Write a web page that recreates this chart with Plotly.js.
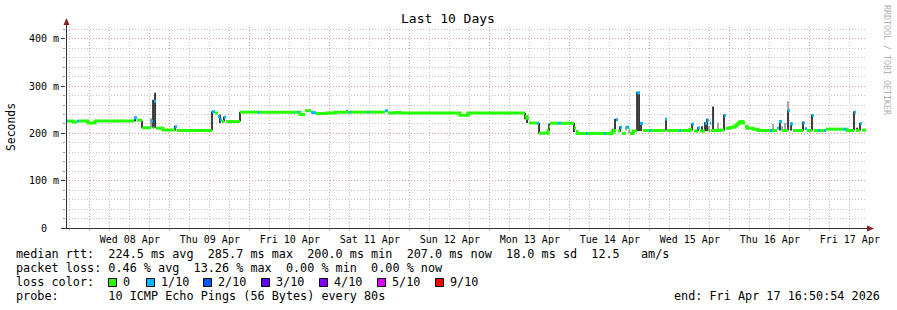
<!DOCTYPE html>
<html><head><meta charset="utf-8">
<script src="https://cdn.plot.ly/plotly-3.0.1.min.js"></script>
<style>html,body{margin:0;padding:0;background:#fff}</style>
</head><body><div id="chart" style="width:897px;height:310px"></div>
<script>
// time in days of April 2026 (fractional), RTT in milliseconds
const medTime = [7.702,7.727,7.790,7.840,7.865,7.977,8.065,8.552,8.590,8.652,8.765,8.790,8.802,8.827,8.915,9.065,9.090,9.527,9.565,9.602,9.627,9.652,9.677,9.702,9.877,10.102,10.127,10.590,10.615,10.627,10.690,10.765,10.827,10.952,11.065,11.240,11.265,11.465,11.490,11.690,11.727,11.815,11.877,12.627,12.727,13.440,13.465,13.490,13.590,13.615,13.727,13.740,13.752,13.852,13.890,14.052,14.077,14.090,14.202,14.227,14.427,14.452,14.527,14.552,14.577,14.602,14.627,14.652,14.702,14.740,14.752,14.790,14.840,14.877,14.915,14.990,15.015,15.190,15.215,15.365,15.390,15.502,15.527,15.552,15.602,15.627,15.690,15.715,15.740,15.752,15.765,15.877,15.927,15.952,16.002,16.065,16.090,16.115,16.140,16.165,16.190,16.215,16.290,16.352,16.502,16.527,16.590,16.615,16.652,16.727,16.752,16.790,16.915,16.940,16.965,17.027,17.052,17.102,17.127,17.177,17.202,17.415,17.452,17.465,17.552,17.577,17.627,17.652,17.702];
const medRtt = [226,226,224,226,226,222,226,233,228,212,226,212,268,211,207,214,206,246,243,236,229,225,234,225,245,245,245,245,245,240,248,244,242,243,245,245,245,245,245,248,243,244,243,238.5,243,236,232,222,221,200.5,206,214,221.5,221.5,221.5,212,204,200,200,200,200,200,203,206,229,205,213,200,213,208,200,205,285.7,221,206,206,206,230,206,206,206,209,220,205,212,205,221,228,206,222,206,207,238,211,213,216,220,224,225,222,215,211,209,206,206,206,211,225,206,248,220,206,222,210,206,238,206,206,206,206,209,209,209,206,245,206,221,207,207];
const medLoss = [1,0,0,1,0,0,0,1,0,0,1,0,1,0,0,1,0,1,0,1,1,0,1,0,0,1,0,1,0,0,0,1,0,0,0,1,0,1,0,1,0,0,0,0,0,0,0,0,1,0,0,0,0,1,0,0,0,0,1,0,1,0,0,0,1,0,1,0,1,0,0,0,1,1,0,1,0,1,0,1,0,0,1,0,1,0,1,1,0,1,0,0,1,0,0,0,0,0,0,0,0,0,0,0,1,0,1,1,0,1,1,0,1,1,0,1,0,1,0,1,0,1,0,0,1,0,1,0,0];

const smokeTime = [8.565,8.652,8.790,8.815,9.065,9.527,9.627,9.677,9.877,10.627,11.215,12.627,12.715,13.440,13.465,13.615,13.740,14.052,14.540,14.565,14.627,14.840,14.865,14.890,15.202,15.527,15.602,15.652,15.690,15.715,15.790,15.927,16.627,16.727,16.765,16.915,17.027,17.552,17.590,17.627];
const smokeLow  = [225,211,212,212,206,206,222,225,225,240,245,238,238,230,222,200,205,203,200,205,203,205,205,205,206,206,205,205,205,205,206,206,206,206,206,206,206,206,206,206];
const smokeHigh = [236,227,271,286,216,247,240,236,246,245,249,243,243,243,232,222,221,222,210,231,215,288,288,222,231,221,213,215,224,231,257,240,228,249,223,225,240,247,212,222];

const greyTime = [8.765,14.702,14.740,15.740,15.852,16.540,16.652,16.690,16.727];
const greyLow  = [212,206,200,205,206,206,206,206,249];
const greyHigh = [232,216,208,215,223,220,215,222,268];

const dayTicks  = [8,9,10,11,12,13,14,15,16,17];
const dayLabels = ["Wed 08 Apr","Thu 09 Apr","Fri 10 Apr","Sat 11 Apr","Sun 12 Apr","Mon 13 Apr","Tue 14 Apr","Wed 15 Apr","Thu 16 Apr","Fri 17 Apr"];
const yTicks  = [0,100,200,300,400];
const yLabels = ["0\u00a0\u00a0","100 m","200 m","300 m","400 m"];
const windowStart = 7.702, windowEnd = 17.702;

const lossLabels = ["0","1/10","2/10","3/10","4/10","5/10","9/10"];
const lossColors = ["#26ff00","#00b8ff","#0059ff","#5e00ff","#7e00ff","#dd00ff","#ff0000"];

const titleText = "Last 10 Days";
const yTitle = "Seconds";
const watermark = "RRDTOOL / TOBI OETIKER";
const line1 = "median rtt:  224.5 ms avg  285.7 ms max  200.0 ms min  207.0 ms now  18.0 ms sd  12.5   am/s";
const line2 = "packet loss: 0.46 % avg  13.26 % max  0.00 % min  0.00 % now";
const line3 = "loss color:";
const line4 = "probe:       10 ICMP Echo Pings (56 Bytes) every 80s";
const endText = "end: Fri Apr 17 16:50:54 2026";

// ---- build traces ----
// median drawn per loss colour; runs of the same colour are joined, except across
// large jumps (those are left to the smoke) and for the isolated loss points
function medianTrace(level, color, joinRuns){
  const x=[], y=[];
  for(let i=0;i<medTime.length;i++){
    if(medLoss[i]!==level) continue;
    x.push(medTime[i]); y.push(medRtt[i]);
    const last = i+1>=medTime.length;
    const nextT = last ? windowEnd : medTime[i+1];
    const breakHere = last || !joinRuns || medLoss[i+1]!==level || Math.abs(medRtt[i+1]-medRtt[i])>6;
    if(breakHere){
      x.push(nextT); y.push(medRtt[i]);
      x.push(null); y.push(null);
    }
  }
  return {type:'scatter', mode:'lines', x, y, line:{color, width:3, shape:'hv'}, connectgaps:false, hoverinfo:'skip'};
}
function smokeTrace(t, lo, hi, color){
  return {type:'bar', x:t, base:lo, y:hi.map((h,i)=>h-lo[i]), width:0.022,
          marker:{color, line:{width:0}}, hoverinfo:'skip'};
}
const traces = [
  smokeTrace(greyTime, greyLow, greyHigh, '#9a9a9a'),
  smokeTrace(smokeTime, smokeLow, smokeHigh, '#262626'),
  medianTrace(0, lossColors[0], true),
  medianTrace(1, lossColors[1], false)
];

// ---- layout helpers (pixel -> paper) ----
const W=897, H=310, ML=66, MR=31, MT=27, MB=82;
const PW=W-ML-MR, PH=H-MT-MB;
const px = p => (p-ML)/PW;
const py = p => (H-MB-p)/PH;
const nb = s => s.replace(/ /g,'\u00a0');
const mono = 'DejaVu Sans Mono, monospace';

function ann(text, x, y, o){
  return Object.assign({text:nb(text), x:px(x), y:py(y), xref:'paper', yref:'paper', showarrow:false,
    xanchor:'left', yanchor:'middle', borderpad:0, borderwidth:0,
    font:{family:mono, size:11.8, color:'#000'}}, o||{});
}

const annotations = [
  ann(titleText, 448, 19, {xanchor:'center', font:{family:mono, size:13, color:'#000'}}),
  ann(yTitle, 11, 127, {xanchor:'center', textangle:-90, font:{family:mono, size:11.4, color:'#000'}}),
  ann(watermark, 887, 60, {xanchor:'center', textangle:90, font:{family:mono, size:8.3, color:'#b0b0b0'}}),
  ann(line1, 16, 254),
  ann(line2, 16, 268),
  ann(line3, 16, 282),
  ann(line4, 16, 296),
  ann(endText, 880, 296, {xanchor:'right'})
];
const sqLeft = [108,146,203,261,319,377,435];
const shapes = [];
lossLabels.forEach((lab,i)=>{
  shapes.push({type:'rect', xref:'paper', yref:'paper', x0:px(sqLeft[i]+0.5), x1:px(sqLeft[i]+8.5), y0:py(286.5), y1:py(278.5),
    fillcolor:lossColors[i], line:{color:'#000', width:1}});
  annotations.push(ann(lab, sqLeft[i]+15, 282));
});
// axes with arrows
shapes.push({type:'line', xref:'paper', yref:'paper', x0:px(66.5), x1:px(66.5), y0:py(228.5), y1:py(23), line:{color:'#333', width:1}});
shapes.push({type:'line', xref:'paper', yref:'paper', x0:px(62), x1:px(869), y0:py(228.5), y1:py(228.5), line:{color:'#333', width:1}});
shapes.push({type:'path', xref:'paper', yref:'paper',
  path:`M${px(66.5)},${py(18)} L${px(63.5)},${py(25)} L${px(69.5)},${py(25)} Z`, fillcolor:'#8b1f1f', line:{width:0}});
shapes.push({type:'path', xref:'paper', yref:'paper',
  path:`M${px(874)},${py(228.5)} L${px(867)},${py(225.5)} L${px(867)},${py(231.5)} Z`, fillcolor:'#8b1f1f', line:{width:0}});

const gridMajor = '#e39a9a', gridMinor = '#c4c4c4', dash='1px,2px';
const layout = {
  width:W, height:H, margin:{l:ML, r:MR, t:MT, b:MB, pad:0},
  paper_bgcolor:'#fff', plot_bgcolor:'#fff', showlegend:false, barmode:'overlay',
  font:{family:mono, size:10, color:'#000'},
  xaxis:{range:[windowStart, windowEnd], tickmode:'array', tickvals:dayTicks, ticktext:dayLabels,
    ticklabelshift:40, showgrid:true, gridcolor:gridMajor, griddash:dash, gridwidth:1,
    ticks:'outside', ticklen:2, tickcolor:gridMajor, zeroline:false, showline:false, fixedrange:true,
    tickfont:{family:mono, size:10, color:'#000'},
    minor:{tick0:0, dtick:0.25, showgrid:true, gridcolor:gridMinor, griddash:dash, gridwidth:1, ticks:'outside', ticklen:2, tickcolor:gridMinor}},
  yaxis:{range:[0,425], tickmode:'array', tickvals:yTicks, ticktext:yLabels,
    showgrid:true, gridcolor:gridMajor, griddash:dash, gridwidth:1,
    ticks:'outside', ticklen:4, tickcolor:'#333', zeroline:false, showline:false, fixedrange:true,
    tickfont:{family:mono, size:10, color:'#000'},
    minor:{tick0:0, dtick:20, showgrid:true, gridcolor:gridMinor, griddash:dash, gridwidth:1, ticks:'outside', ticklen:2, tickcolor:'#999'}},
  shapes, annotations
};
Plotly.newPlot('chart', traces, layout, {staticPlot:true, displayModeBar:false});
</script></body></html>
